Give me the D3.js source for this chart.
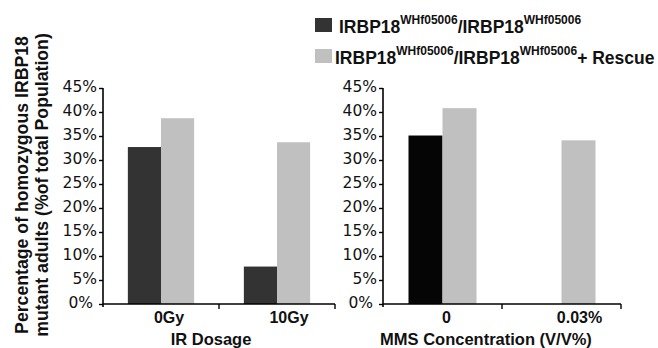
<!DOCTYPE html>
<html>
<head>
<meta charset="utf-8">
<script src="https://cdn.jsdelivr.net/npm/d3@7"></script>
<style>
  html, body { margin: 0; padding: 0; background: #fff; }
  svg { display: block; }
</style>
</head>
<body>
<svg id="chart" width="658" height="348"></svg>
<script>
// ---- data ----
const irCategories = ["0Gy", "10Gy"];
const irMutant = [32.7, 7.8];
const irRescue = [38.7, 33.7];
const mmsCategories = ["0", "0.03%"];
const mmsMutant = [35.1, 0];
const mmsRescue = [40.8, 34.1];
const yTickValues = [0, 5, 10, 15, 20, 25, 30, 35, 40, 45];
const seriesKeys = ["mutant", "rescue"];
const legendMain = "IRBP18";
const legendSup = "WHf05006";

// ---- layout ----
const svg = d3.select("#chart");
const boldFont = "'Liberation Sans', Arial, sans-serif";
const tickFont = "'DejaVu Sans', Verdana, sans-serif";
const lightColor = "#c0c0c0";

const y = d3.scaleLinear().domain([0, 45]).range([304, 88]);

function panel(opts) {
  const g = svg.append("g");
  const x = d3.scaleBand().domain(opts.categories).range(opts.xRange).padding(0);
  const inner = d3.scaleBand().domain(seriesKeys).range([0, x.bandwidth()])
    .paddingInner(0).paddingOuter(0.75);

  // bars
  const rows = opts.categories.map((c, i) => ({ c, mutant: opts.mutant[i], rescue: opts.rescue[i] }));
  rows.forEach(r => {
    seriesKeys.forEach(k => {
      if (r[k] > 0) {
        g.append("rect")
          .attr("x", x(r.c) + inner(k))
          .attr("y", y(r[k]))
          .attr("width", inner.bandwidth())
          .attr("height", y(0) - y(r[k]))
          .attr("fill", k === "mutant" ? opts.darkColor : lightColor);
      }
    });
  });

  // y axis
  const yAxis = d3.axisLeft(y).tickValues(yTickValues).tickSize(4).tickPadding(2)
    .tickFormat(d => d + "%");
  const ya = g.append("g").attr("transform", `translate(${opts.xRange[0]},0)`).call(yAxis);
  ya.select(".domain").attr("stroke", "#000").attr("stroke-width", 1.6)
    .attr("d", `M0,${y(45)}V${y(0) + 3}`);
  ya.selectAll(".tick line").attr("stroke", "#000").attr("stroke-width", 1.4);
  ya.selectAll(".tick text").attr("font-family", tickFont).attr("font-size", 15.5)
    .attr("fill", "#111").attr("dy", "0.25em")
    .attr("dx", d => d === 0 ? -4 : 0);

  // x axis (ticks at category boundaries)
  const xa = g.append("g").attr("transform", `translate(0,${y(0)})`);
  xa.append("line").attr("x1", opts.xRange[0]).attr("x2", opts.xRange[1])
    .attr("stroke", "#000").attr("stroke-width", 1.6);
  const bounds = opts.categories.map(c => x(c)).concat([opts.xRange[1]]);
  xa.selectAll("line.bt").data(bounds.slice(1)).enter().append("line")
    .attr("class", "bt").attr("x1", d => d).attr("x2", d => d)
    .attr("y1", 0).attr("y2", 5).attr("stroke", "#000").attr("stroke-width", 1.4);
  xa.selectAll("text.cat").data(opts.categories).enter().append("text")
    .attr("class", "cat")
    .attr("x", (d, i) => x(d) + x.bandwidth() / 2 + opts.labelShift[i])
    .attr("y", 19)
    .attr("text-anchor", "middle")
    .attr("font-family", boldFont).attr("font-weight", "bold").attr("font-size", 16)
    .attr("fill", "#111")
    .text(d => d);

  // x title
  g.append("text")
    .attr("x", opts.titleX).attr("y", 345)
    .attr("text-anchor", "middle")
    .attr("font-family", boldFont).attr("font-weight", "bold").attr("font-size", 16.5)
    .attr("fill", "#111")
    .text(opts.title);
}

panel({ categories: irCategories, mutant: irMutant, rescue: irRescue,
        xRange: [103, 335], darkColor: "#333333", title: "IR Dosage", titleX: 211,
        labelShift: [8, 12] });
panel({ categories: mmsCategories, mutant: mmsMutant, rescue: mmsRescue,
        xRange: [383, 621], darkColor: "#050505", title: "MMS Concentration (V/V%)", titleX: 486,
        labelShift: [4, 18] });

// y title (two lines, rotated)
const yTitle = svg.append("text")
  .attr("transform", "translate(0,185) rotate(-90)")
  .attr("text-anchor", "middle")
  .attr("font-family", boldFont).attr("font-weight", "bold").attr("font-size", 17.7)
  .attr("fill", "#111");
yTitle.append("tspan").attr("x", 0).attr("y", 28).text("Percentage of homozygous IRBP18");
yTitle.append("tspan").attr("x", 0).attr("y", 48).text("mutant adults (%of total Population)");

// legend
const legendItems = [
  { key: "mutant", color: "#333333", suffix: "", sx: 315, tx: 339, ty: 33, sy: 18 },
  { key: "rescue", color: lightColor, suffix: "+ Rescue", sx: 315, tx: 335, ty: 64, sy: 49 }
];
legendItems.forEach(it => {
  svg.append("rect").attr("x", it.sx).attr("y", it.sy).attr("width", 17).attr("height", 14)
    .attr("fill", it.color);
  const t = svg.append("text").attr("x", it.tx).attr("y", it.ty)
    .attr("font-family", boldFont).attr("font-weight", "bold").attr("font-size", 17.5)
    .attr("fill", "#111");
  t.append("tspan").text(legendMain);
  t.append("tspan").attr("font-size", 12).attr("dy", -9).text(legendSup);
  t.append("tspan").attr("dy", 9).text("/" + legendMain);
  t.append("tspan").attr("font-size", 12).attr("dy", -9).text(legendSup);
  if (it.suffix) t.append("tspan").attr("dy", 9).text(it.suffix);
});
</script>
</body>
</html>
